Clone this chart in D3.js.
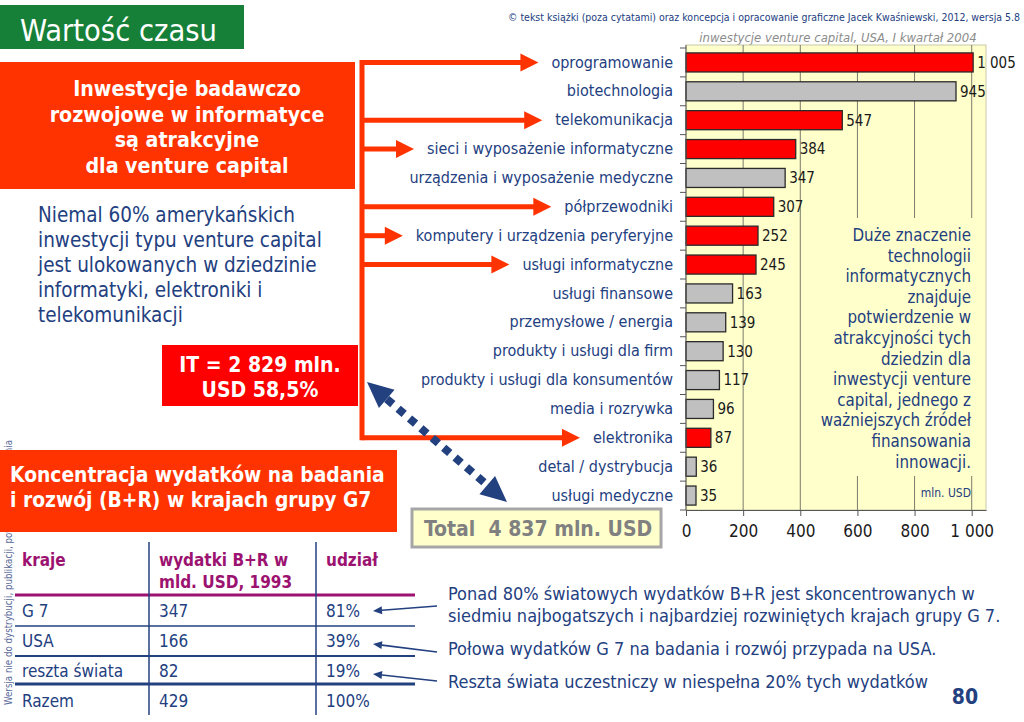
<!DOCTYPE html>
<html>
<head>
<meta charset="utf-8">
<script src="https://cdn.jsdelivr.net/npm/d3@7"></script>
<style>
body { margin: 0; background: #fff; }
svg { display: block; }
text { font-family: "DejaVu Sans Condensed", "DejaVu Sans", sans-serif; }
</style>
</head>
<body>
<script>
// venture capital investments, USA, Q1 2004 (mln USD)
var categories = [
	'oprogramowanie',
	'biotechnologia',
	'telekomunikacja',
	'sieci i wyposażenie informatyczne',
	'urządzenia i wyposażenie medyczne',
	'półprzewodniki',
	'komputery i urządzenia peryferyjne',
	'usługi informatyczne',
	'usługi finansowe',
	'przemysłowe / energia',
	'produkty i usługi dla firm',
	'produkty i usługi dla konsumentów',
	'media i rozrywka',
	'elektronika',
	'detal / dystrybucja',
	'usługi medyczne'
];
var values = [1005, 945, 547, 384, 347, 307, 252, 245, 163, 139, 130, 117, 96, 87, 36, 35];
var itSector = [true, false, true, true, false, true, true, true, false, false, false, false, false, true, false, false];
var xTicks = [0, 200, 400, 600, 800, 1000];

// R&D spending table
var tableCountries = ['G 7', 'USA', 'reszta świata', 'Razem'];
var tableSpend = [347, 166, 82, 429];
var tableShare = ['81%', '39%', '19%', '100%'];

var notes = [
	['Ponad 80% światowych wydatków B+R jest skoncentrowanych w', 'siedmiu najbogatszych i najbardziej rozwiniętych krajach grupy G 7.'],
	['Połowa wydatków G 7 na badania i rozwój przypada na USA.'],
	['Reszta świata uczestniczy w niespełna 20% tych wydatków']
];

var navy = '#23407f',
	orange = '#ff3300',
	yellow = '#ffffcc';

var pl = d3.formatLocale({decimal: ',', thousands: '\u00a0', grouping: [3], currency: ['', '']});
var fmt = pl.format(',');

var svg = d3.select('body').append('svg')
	.attr('width', 1024)
	.attr('height', 722);

// header
svg.append('rect').attr('x', 0).attr('y', 5).attr('width', 244).attr('height', 44).attr('fill', '#178038');
svg.append('text').attr('x', 20).attr('y', 41).attr('fill', '#fff').attr('font-size', 31)
	.attr('textLength', 197).attr('lengthAdjust', 'spacingAndGlyphs')
	.text('Wartość czasu');
svg.append('text').attr('x', 508).attr('y', 21).attr('fill', navy).attr('font-size', 10.5)
	.attr('textLength', 512).attr('lengthAdjust', 'spacingAndGlyphs')
	.text('© tekst książki (poza cytatami) oraz koncepcja i opracowanie graficzne Jacek Kwaśniewski, 2012,  wersja 5.8');

// watermark (mostly hidden)
svg.append('text').attr('transform', 'translate(12,705) rotate(-90)').attr('fill', '#5a6a9a').attr('font-size', 10)
	.attr('textLength', 265).attr('lengthAdjust', 'spacingAndGlyphs')
	.text('Wersja nie do dystrybucji, publikacji, powielania i kopiowania');

// ---- bar chart ----
var x = d3.scaleLinear().domain([0, 1050]).range([686, 986]);
var y = d3.scaleBand().domain(categories).range([48, 510]).paddingInner(0.34).paddingOuter(0.17);
var bw = y.bandwidth();

svg.append('text').attr('x', 838).attr('y', 42).attr('text-anchor', 'middle')
	.attr('fill', '#8c8c8c').attr('font-size', 13).attr('font-style', 'italic')
	.text('inwestycje venture capital, USA, I kwartał 2004');

svg.append('rect').attr('x', x(0)).attr('y', 45).attr('width', x(1050) - x(0)).attr('height', 465)
	.attr('fill', yellow).attr('stroke', '#c9c9a8');

svg.append('g').selectAll('line').data(xTicks.slice(1)).enter().append('line')
	.attr('x1', d => x(d)).attr('x2', d => x(d))
	.attr('y1', 45).attr('y2', 510)
	.attr('stroke', '#7a7a6a');

// comment box inside plot hides the grid
svg.append('rect').attr('x', 816).attr('y', 218).attr('width', 168).attr('height', 258).attr('fill', yellow);
var boxText = ['Duże znaczenie', 'technologii', 'informatycznych', 'znajduje', 'potwierdzenie w',
	'atrakcyjności tych', 'dziedzin dla', 'inwestycji venture', 'capital, jednego z',
	'ważniejszych źródeł', 'finansowania', 'innowacji.'];
svg.append('g').selectAll('text').data(boxText).enter().append('text')
	.attr('x', 971).attr('y', (d, i) => 241 + i * 20.6)
	.attr('text-anchor', 'end').attr('fill', navy).attr('font-size', 16.8)
	.text(d => d);
svg.append('text').attr('x', 971).attr('y', 497).attr('text-anchor', 'end')
	.attr('fill', navy).attr('font-size', 12).text('mln. USD');

var bars = svg.append('g').selectAll('g').data(categories).enter().append('g');
bars.append('rect')
	.attr('x', x(0))
	.attr('y', d => y(d))
	.attr('width', (d, i) => x(values[i]) - x(0))
	.attr('height', bw)
	.attr('fill', (d, i) => itSector[i] ? '#ff0000' : '#c0c0c0')
	.attr('stroke', '#2a2a2a').attr('stroke-width', 1.3);
bars.append('text')
	.attr('x', (d, i) => x(values[i]) + 4)
	.attr('y', d => y(d) + bw / 2)
	.attr('dy', '0.36em')
	.attr('font-size', 15).attr('fill', '#1a1a1a')
	.text((d, i) => fmt(values[i]));

var yAxis = svg.append('g').attr('transform', `translate(${x(0)},0)`)
	.call(d3.axisLeft(y).tickSize(0).tickPadding(13));
yAxis.select('.domain').remove();
yAxis.selectAll('text').attr('font-size', 16).attr('fill', navy).attr('font-family', null);
svg.append('line').attr('x1', x(0)).attr('x2', x(0)).attr('y1', 45).attr('y2', 510).attr('stroke', '#555');
svg.append('g').selectAll('line').data(d3.range(categories.length + 1)).enter().append('line')
	.attr('x1', x(0) - 6).attr('x2', x(0))
	.attr('y1', i => y.range()[0] + i * y.step()).attr('y2', i => y.range()[0] + i * y.step())
	.attr('stroke', '#555');

var xAxis = svg.append('g').attr('transform', 'translate(0,510)')
	.call(d3.axisBottom(x).tickValues(xTicks).tickSize(6).tickSizeOuter(0).tickPadding(9).tickFormat(fmt));
xAxis.select('.domain').attr('stroke', '#555');
xAxis.selectAll('line').attr('stroke', '#555');
xAxis.selectAll('text').attr('font-size', 17).attr('fill', '#1a1a1a').attr('font-family', null);

// ---- red connector arrows to IT sectors ----
var labelLeft = {};
yAxis.selectAll('.tick text').each(function(d) {
	labelLeft[d] = x(0) + this.getBBox().x;
});
var itCats = categories.filter((d, i) => itSector[i]);
var connX = 362;
var conn = svg.append('g').attr('fill', orange).attr('stroke', orange);
conn.append('line')
	.attr('x1', connX).attr('x2', connX)
	.attr('y1', y(itCats[0]) + bw / 2 - 2.5)
	.attr('y2', y(itCats[itCats.length - 1]) + bw / 2 + 2.5)
	.attr('stroke-width', 5);
itCats.forEach(function(c) {
	var cy = y(c) + bw / 2, tip = labelLeft[c] - 13;
	conn.append('line').attr('x1', connX).attr('x2', tip - 16).attr('y1', cy).attr('y2', cy).attr('stroke-width', 5);
	conn.append('path').attr('stroke', 'none')
		.attr('d', `M${tip - 18},${cy - 9}L${tip},${cy}L${tip - 18},${cy + 9}Z`);
});

// ---- left panel ----
svg.append('rect').attr('x', 0).attr('y', 62).attr('width', 355).attr('height', 127).attr('fill', orange);
svg.append('g').selectAll('text')
	.data(['Inwestycje badawczo', 'rozwojowe w informatyce', 'są atrakcyjne', 'dla venture capital'])
	.enter().append('text')
	.attr('x', 187).attr('y', (d, i) => 96 + i * 25.5)
	.attr('text-anchor', 'middle').attr('fill', '#fff').attr('font-size', 21.2).attr('font-weight', 'bold')
	.text(d => d);

svg.append('g').selectAll('text')
	.data(['Niemal 60% amerykańskich', 'inwestycji typu venture capital', 'jest ulokowanych w dziedzinie',
		'informatyki, elektroniki i', 'telekomunikacji'])
	.enter().append('text')
	.attr('x', 38).attr('y', (d, i) => 222 + i * 25)
	.attr('fill', navy).attr('font-size', 20.5)
	.text(d => d);

svg.append('rect').attr('x', 162).attr('y', 345).attr('width', 196).attr('height', 61).attr('fill', '#ff0000');
svg.append('g').selectAll('text').data(['IT = 2 829 mln.', 'USD 58,5%']).enter().append('text')
	.attr('x', 260).attr('y', (d, i) => 372 + i * 25)
	.attr('text-anchor', 'middle').attr('fill', '#fff').attr('font-size', 21).attr('font-weight', 'bold')
	.text(d => d);

// dotted double arrow between IT box and total
(function() {
	var a = [367, 382], b = [507, 502];
	var dx = b[0] - a[0], dy = b[1] - a[1], len = Math.hypot(dx, dy);
	var ux = dx / len, uy = dy / len, hl = 26, hw = 12;
	svg.append('line')
		.attr('x1', a[0] + ux * hl).attr('y1', a[1] + uy * hl)
		.attr('x2', b[0] - ux * hl).attr('y2', b[1] - uy * hl)
		.attr('stroke', navy).attr('stroke-width', 8).attr('stroke-dasharray', '8,7');
	[[a, 1], [b, -1]].forEach(function(p) {
		var t = p[0], s = p[1];
		var bx = t[0] + s * ux * hl, by = t[1] + s * uy * hl;
		svg.append('path').attr('fill', navy)
			.attr('d', `M${t[0]},${t[1]}L${bx - uy * hw},${by + ux * hw}L${bx + uy * hw},${by - ux * hw}Z`);
	});
})();

svg.append('rect').attr('x', 0).attr('y', 450).attr('width', 397).attr('height', 82).attr('fill', orange);
svg.append('g').selectAll('text')
	.data(['Koncentracja wydatków na badania', 'i rozwój (B+R) w krajach grupy G7'])
	.enter().append('text')
	.attr('x', 10).attr('y', (d, i) => 482 + i * 25)
	.attr('fill', '#fff').attr('font-size', 20.8).attr('font-weight', 'bold')
	.text(d => d);

svg.append('rect').attr('x', 412).attr('y', 509).attr('width', 249).attr('height', 38)
	.attr('fill', yellow).attr('stroke', '#a6a6a6').attr('stroke-width', 3);
svg.append('text').attr('x', 424).attr('y', 536).attr('fill', '#808080')
	.attr('font-size', 21).attr('font-weight', 'bold')
	.text('Total\u00a0\u00a04 837 mln. USD');

// ---- table ----
var magenta = '#9c1270';
var colX = [22, 159, 326];
var rowY = [617, 647, 677, 707];
var tbl = svg.append('g');
tbl.append('text').attr('x', colX[0]).attr('y', 566).attr('fill', magenta).attr('font-size', 17).attr('font-weight', 'bold').text('kraje');
tbl.append('text').attr('x', colX[1]).attr('y', 566).attr('fill', magenta).attr('font-size', 17).attr('font-weight', 'bold').text('wydatki B+R w');
tbl.append('text').attr('x', colX[1]).attr('y', 588).attr('fill', magenta).attr('font-size', 17).attr('font-weight', 'bold').text('mld. USD, 1993');
tbl.append('text').attr('x', colX[2]).attr('y', 566).attr('fill', magenta).attr('font-size', 17).attr('font-weight', 'bold').text('udział');

tbl.append('line').attr('x1', 15).attr('x2', 415).attr('y1', 595).attr('y2', 595).attr('stroke', magenta).attr('stroke-width', 3);
[[626, 1.5], [656, 2], [684, 3]].forEach(function(r) {
	tbl.append('line').attr('x1', 15).attr('x2', 415).attr('y1', r[0]).attr('y2', r[0]).attr('stroke', navy).attr('stroke-width', r[1]);
});
[149, 316].forEach(function(cx) {
	tbl.append('line').attr('x1', cx).attr('x2', cx).attr('y1', 542).attr('y2', 715).attr('stroke', navy).attr('stroke-width', 1.5);
});
var rows = tbl.selectAll('g.row').data(tableCountries).enter().append('g').attr('class', 'row');
rows.append('text').attr('x', colX[0]).attr('y', (d, i) => rowY[i]).text(d => d);
rows.append('text').attr('x', colX[1]).attr('y', (d, i) => rowY[i]).text((d, i) => tableSpend[i]);
rows.append('text').attr('x', colX[2]).attr('y', (d, i) => rowY[i]).text((d, i) => tableShare[i]);
rows.selectAll('text').attr('fill', navy).attr('font-size', 17);

// notes with thin arrows pointing at shares
var noteY = [[600, 622], [655], [688]];
var arrowFrom = [[437, 606], [437, 652], [437, 681]];
var arrowTo = [[373, 611], [373, 644], [373, 674]];
notes.forEach(function(lines, k) {
	lines.forEach(function(t, j) {
		svg.append('text').attr('x', 448).attr('y', noteY[k][j]).attr('fill', navy).attr('font-size', 18).text(t);
	});
	var f = arrowFrom[k], t = arrowTo[k];
	var dx = t[0] - f[0], dy = t[1] - f[1], len = Math.hypot(dx, dy), ux = dx / len, uy = dy / len;
	var bx = t[0] - ux * 9, by = t[1] - uy * 9;
	svg.append('line').attr('x1', f[0]).attr('y1', f[1]).attr('x2', bx).attr('y2', by).attr('stroke', navy).attr('stroke-width', 1.6);
	svg.append('path').attr('fill', navy)
		.attr('d', `M${t[0]},${t[1]}L${bx - uy * 4},${by + ux * 4}L${bx + uy * 4},${by - ux * 4}Z`);
});

svg.append('text').attr('x', 965).attr('y', 704).attr('text-anchor', 'middle')
	.attr('fill', navy).attr('font-size', 21).attr('font-weight', 'bold').text('80');
</script>
</body>
</html>
